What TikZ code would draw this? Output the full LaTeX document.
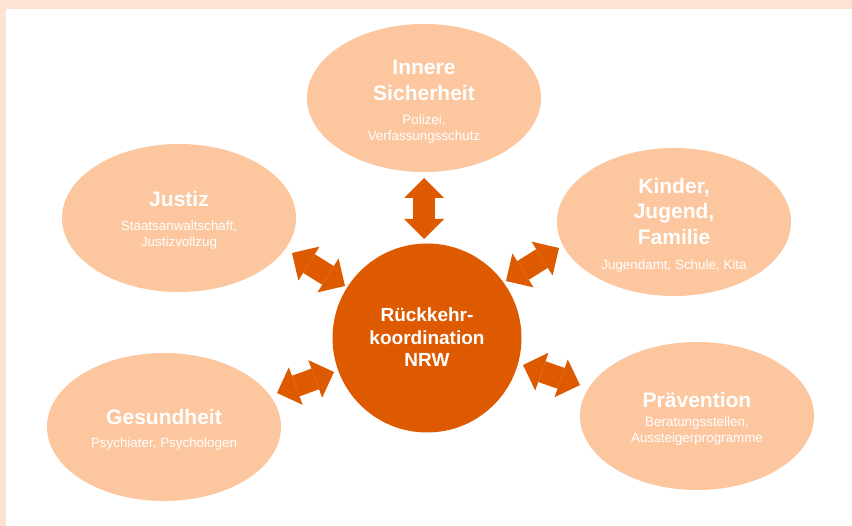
\documentclass[tikz,border=0pt]{standalone}
\usepackage{fontspec}
\setmainfont{Liberation Sans}
\usetikzlibrary{shapes.geometric,arrows.meta}
\definecolor{peach}{HTML}{FCC69F}
\definecolor{hubc}{HTML}{DD5A00}
\definecolor{band}{HTML}{FCE3D3}
\tikzset{
 field/.style={ellipse, fill=peach, minimum width=234pt, minimum height=148pt, inner sep=0pt},
 hubnode/.style={circle, fill=hubc, minimum size=189pt, inner sep=0pt},
 ttl/.style={anchor=base, text=white, font=\fontsize{21}{24}\selectfont\bfseries, inner sep=0pt},
 subt/.style={anchor=base, text=white, font=\fontsize{13.4}{16}\selectfont, inner sep=0pt},
 hubtxt/.style={anchor=base, text=white, font=\fontsize{19}{23}\selectfont\bfseries, inner sep=0pt},
 link/.style={draw=hubc, line width=22pt,
   {Triangle[width=40pt,length=20pt,line width=0pt]}-{Triangle[width=40pt,length=20pt,line width=0pt]}},
}
\begin{document}
\begin{tikzpicture}[x=1pt,y=-1pt]
\useasboundingbox (0,0) rectangle (852,526);
\fill[white] (0,0) rectangle (852,526);
\fill[band] (0,0) rectangle (852,9);
\fill[band] (0,0) rectangle (6,526);

% ellipses
\node[field] (inn) at (424,98) {};
\node[field] (jus) at (179,218) {};
\node[field] (kin) at (674,222) {};
\node[field] (ges) at (164,427) {};
\node[field] (prv) at (697,416) {};
\node[hubnode] (hub) at (427,338) {};

% texts
\node[ttl] (inn1) at (424,75) {Innere};
\node[ttl] (inn2) at (424,100.5) {Sicherheit};
\node[subt] (inn3) at (424,125) {Polizei,};
\node[subt] (inn4) at (424,141) {Verfassungsschutz};

\node[ttl] (jus1) at (179,206.5) {Justiz};
\node[subt] (jus2) at (179,230.5) {Staatsanwaltschaft,};
\node[subt] (jus3) at (179,247) {Justizvollzug};

\node[ttl] (kin1) at (674,194) {Kinder,};
\node[ttl] (kin2) at (674,219) {Jugend,};
\node[ttl] (kin3) at (674,245) {Familie};
\node[subt] (kin4) at (674,270) {Jugendamt, Schule, Kita};

\node[ttl] (ges1) at (164,425) {Gesundheit};
\node[subt] (ges2) at (164,448) {Psychiater, Psychologen};

\node[ttl] (prv1) at (697,408) {Prävention};
\node[subt] (prv2) at (697,427) {Beratungsstellen,};
\node[subt] (prv3) at (697,443) {Aussteigerprogramme};

\node[hubtxt] (hub1) at (427,321.5) {Rückkehr-};
\node[hubtxt] (hub2) at (427,345) {koordination};
\node[hubtxt] (hub3) at (427,367) {NRW};

% arrows
\coordinate (iA) at (424,178);
\coordinate (iB) at (424,239);
\coordinate (jA) at (292,253);
\coordinate (jB) at (345,286);
\coordinate (kA) at (559,248);
\coordinate (kB) at (506,281);
\coordinate (gA) at (277,393);
\coordinate (gB) at (334,372);
\coordinate (pA) at (580,385);
\coordinate (pB) at (523,365);
\draw[link] (iA) -- (iB);
\draw[link] (jA) -- (jB);
\draw[link] (kA) -- (kB);
\draw[link] (gA) -- (gB);
\draw[link] (pA) -- (pB);
\end{tikzpicture}
\end{document}
